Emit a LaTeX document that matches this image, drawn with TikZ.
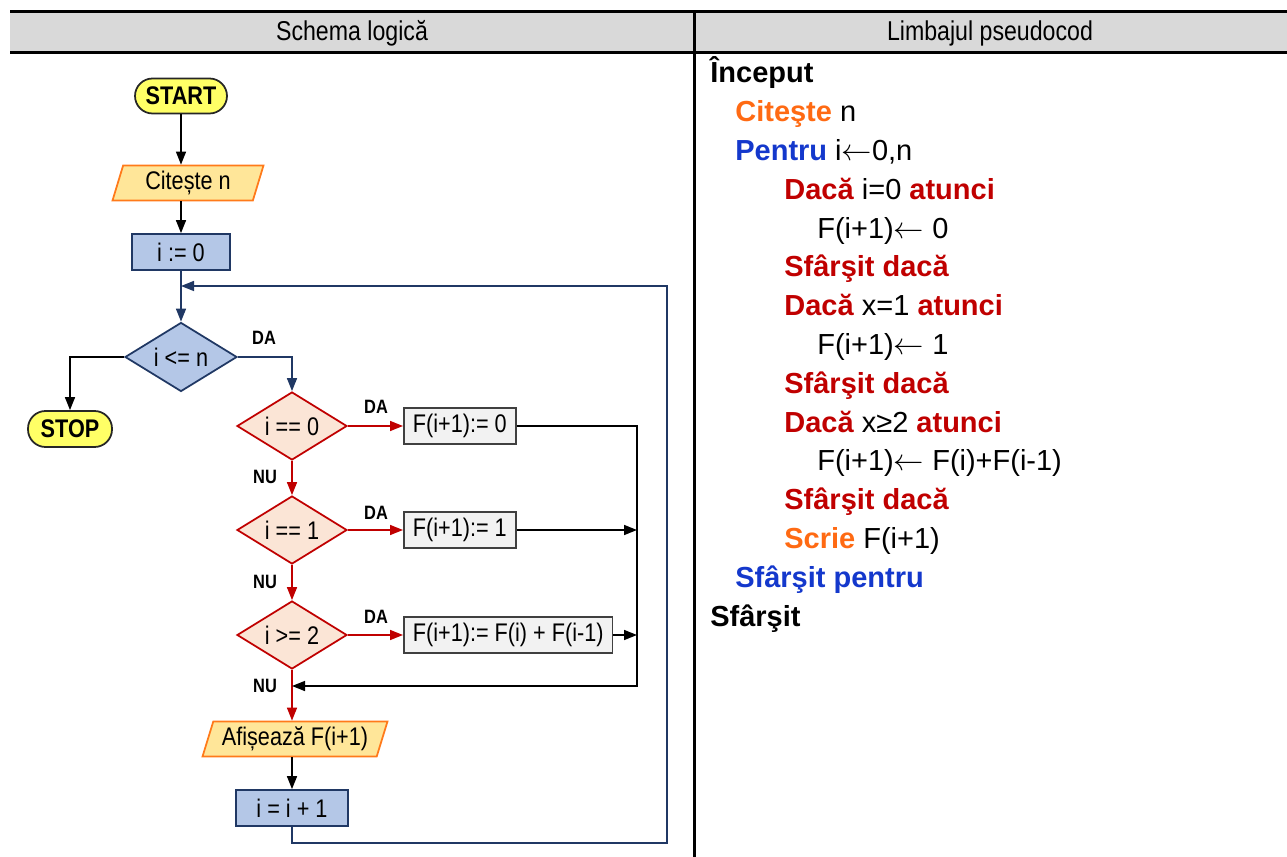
\documentclass[tikz,border=0pt]{standalone}
\usepackage{fontspec}
\setmainfont{Liberation Sans}
\newfontfamily\narrowsf[FakeStretch=0.85]{Liberation Sans}
\usetikzlibrary{arrows.meta,shapes.geometric}
\definecolor{hdrgray}{HTML}{D9D9D9}
\definecolor{termyel}{HTML}{FFFF66}
\definecolor{iofill}{HTML}{FFE699}
\definecolor{ioline}{HTML}{FF7A1A}
\definecolor{bluefill}{HTML}{B4C7E7}
\definecolor{blueline}{HTML}{203864}
\definecolor{peach}{HTML}{FBE5D6}
\definecolor{redline}{HTML}{C00000}
\definecolor{boxgray}{HTML}{F2F2F2}
\definecolor{kwor}{HTML}{FF6A13}
\definecolor{kwbl}{HTML}{1438CC}
\definecolor{kwrd}{HTML}{C00000}
\newcommand\fcfont{\narrowsf\fontsize{14.5pt}{17pt}\selectfont}
\newcommand\hdfont{\narrowsf\fontsize{15.5pt}{18pt}\selectfont}
\newcommand\lblfont{\narrowsf\bfseries\fontsize{11pt}{13pt}\selectfont}
\newcommand\pcfont{\fontsize{16.5pt}{20pt}\selectfont}
\newcommand\getsarrow{\,$\leftarrow$}
\begin{document}
\begin{tikzpicture}[x=0.02cm,y=-0.02cm,
  term/.style={rectangle, rounded corners=0.35cm, draw=black!85, fill=termyel, line width=1pt,
    minimum height=0.7cm, inner sep=0pt, font=\fcfont\bfseries},
  io/.style={trapezium, trapezium left angle=66, trapezium right angle=114,
    trapezium stretches body=true, draw=ioline, fill=iofill, line width=1pt,
    minimum height=0.7cm, inner sep=0pt, font=\fcfont},
  proc/.style={rectangle, draw=blueline, fill=bluefill, line width=1pt,
    minimum width=2.24cm, minimum height=0.72cm, font=\fcfont},
  cond/.style={diamond, aspect=1.6, draw=blueline, fill=bluefill, line width=1pt,
    minimum width=2.24cm, minimum height=1.38cm, inner sep=0pt, font=\fcfont},
  test/.style={cond, draw=redline, fill=peach, minimum width=2.2cm, minimum height=1.36cm},
  asgn/.style={rectangle, draw=black!75, fill=boxgray, line width=1pt, anchor=west,
    minimum height=0.7cm, inner xsep=0.18cm, font=\fcfont},
  lbl/.style={font=\lblfont, inner sep=0pt},
  pc/.style={anchor=base west, inner sep=0pt, font=\pcfont},
  blk/.style={line width=0.85pt, -{Triangle[length=0.26cm,width=0.2cm]}},
  blu/.style={blk, draw=blueline, -{Triangle[length=0.26cm,width=0.2cm,fill=blueline]}},
  red/.style={blk, draw=redline, -{Triangle[length=0.26cm,width=0.2cm,fill=redline]}}]
\useasboundingbox (0,0) rectangle (1287,857);
% table head
\fill[hdrgray] (10,12) rectangle (1287,53);
\draw[line width=1.7pt] (10,12) -- (1287,12) (10,53) -- (1287,53) (694,12) -- (694,857);
\node[font=\hdfont] (hleft) at (352,33) {Schema logică};
\node[font=\hdfont] (hright) at (990,33) {Limbajul pseudocod};
% flowchart
\node[term, minimum width=1.84cm] (start) at (181,96) {START};
\node[io, minimum width=3.02cm] (cit) at (188,183) {Citește n};
\node[proc, minimum width=1.96cm] (init) at (181,252) {i := 0};
\node[cond] (cmp) at (181,357) {i <= n};
\node[term, minimum width=1.68cm, minimum height=0.72cm] (stop) at (70,429) {STOP};
\node[test] (c0) at (292,426) {i == 0};
\node[test] (c1) at (292,530) {i == 1};
\node[test] (c2) at (292,635) {i >= 2};
\node[asgn] (f0) at (403,426) {F(i+1):= 0};
\node[asgn] (f1) at (403,530) {F(i+1):= 1};
\node[asgn] (f2) at (403,635) {F(i+1):= F(i) + F(i-1)};
\node[io, minimum width=3.7cm] (afis) at (295,739) {Afișează F(i+1)};
\node[proc] (inc) at (292,808) {i = i + 1};
\coordinate (rj) at (637,686);
\coordinate (lpb) at (667,843);
\coordinate (lpt) at (667,286);
\draw[blk] (start.south) -- (start.south |- cit.north);
\draw[blk] (init.north |- cit.south) -- (init.north);
\draw[blu] (init) -- (cmp);
\draw[blk] (cmp.west) -| (stop.north);
\draw[blu] (cmp.east) -| (c0.north);
\draw[red] (c0.east) -- (f0.west);
\draw[red] (c1.east) -- (f1.west);
\draw[red] (c2.east) -- (f2.west);
\draw[red] (c0) -- (c1);
\draw[red] (c1) -- (c2);
\draw[red] (c2.south) -- (c2.south |- afis.north);
\draw[blk] (inc.north |- afis.south) -- (inc.north);
\draw[blk] (f0.east) -| (rj) -- (rj -| c2.south);
\draw[blk] (f1.east) -- (f1.east -| rj);
\draw[blk] (f2.east) -- (f2.east -| rj);
\draw[blu] (inc.south) |- (lpb) -- (lpt) -- (lpt -| init.south);
\node[lbl] (da0) at (264,338) {DA};
\node[lbl] (da1) at (376,407) {DA};
\node[lbl] (da2) at (376,513) {DA};
\node[lbl] (da3) at (376,617) {DA};
\node[lbl] (nu0) at (265,477) {NU};
\node[lbl] (nu1) at (265,582) {NU};
\node[lbl] (nu2) at (265,686) {NU};
% pseudocode
\node[pc] (p1) at (710,83) {\textbf{Început}};
\node[pc] (p2) at (735,121.8) {\textcolor{kwor}{\textbf{Citeşte}} n};
\node[pc] (p3) at (735,160.6) {\textcolor{kwbl}{\textbf{Pentru}} i$\leftarrow$0,n};
\node[pc] (p4) at (784,199.4) {\textcolor{kwrd}{\textbf{Dacă}} i=0 \textcolor{kwrd}{\textbf{atunci}}};
\node[pc] (p5) at (817,238.2) {F(i+1)$\leftarrow$ 0};
\node[pc] (p6) at (784,277) {\textcolor{kwrd}{\textbf{Sfârşit dacă}}};
\node[pc] (p7) at (784,315.8) {\textcolor{kwrd}{\textbf{Dacă}} x=1 \textcolor{kwrd}{\textbf{atunci}}};
\node[pc] (p8) at (817,354.6) {F(i+1)$\leftarrow$ 1};
\node[pc] (p9) at (784,393.4) {\textcolor{kwrd}{\textbf{Sfârşit dacă}}};
\node[pc] (p10) at (784,432.2) {\textcolor{kwrd}{\textbf{Dacă}} x≥2 \textcolor{kwrd}{\textbf{atunci}}};
\node[pc] (p11) at (817,471) {F(i+1)$\leftarrow$ F(i)+F(i-1)};
\node[pc] (p12) at (784,509.8) {\textcolor{kwrd}{\textbf{Sfârşit dacă}}};
\node[pc] (p13) at (784,548.6) {\textcolor{kwor}{\textbf{Scrie}} F(i+1)};
\node[pc] (p14) at (735,587.4) {\textcolor{kwbl}{\textbf{Sfârşit pentru}}};
\node[pc] (p15) at (710,626.2) {\textbf{Sfârşit}};
\end{tikzpicture}
\end{document}
